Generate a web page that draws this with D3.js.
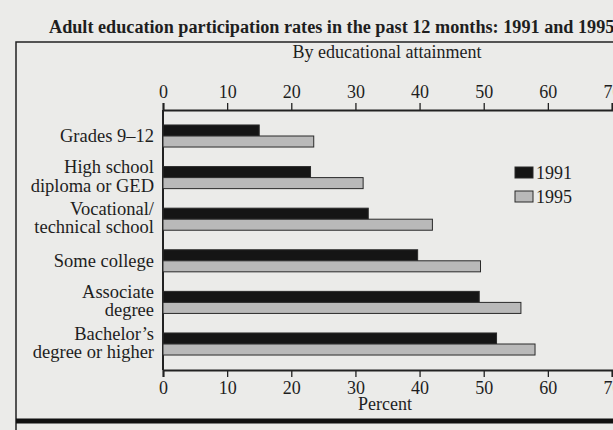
<!DOCTYPE html>
<html><head><meta charset="utf-8">
<script src="https://cdn.jsdelivr.net/npm/d3@7"></script>
<style>
html,body{margin:0;padding:0;background:#ebebe9;}
svg{display:block;}
text{font-family:"Liberation Serif","Times New Roman",serif;fill:#1e1e1e;}
</style></head>
<body>
<script>
const categories = [
  ["Grades 9\u201312"],
  ["High school","diploma or GED"],
  ["Vocational/","technical school"],
  ["Some college"],
  ["Associate","degree"],
  ["Bachelor\u2019s","degree or higher"]
];
const series = ["1991","1995"];
const values1991 = [15, 23, 32, 39.7, 49.3, 52];
const values1995 = [23.5, 31.2, 42, 49.5, 55.8, 58];
const tickValues = [0,10,20,30,40,50,60,70];
const titleText = "Adult education participation rates in the past 12 months: 1991 and 1995";
const subtitleText = "By educational attainment";
const xLabel = "Percent";

const W = 613, H = 430;
const svg = d3.select("body").append("svg").attr("width", W).attr("height", H);

const pL = 163, pR = 612, pT = 110, pB = 370;
const x = d3.scaleLinear().domain([0,70]).range([pL, pR]);
const keys = categories.map(c => c.join(" "));
const y = d3.scaleBand().domain(keys).range([pT, pB]).paddingInner(0.47).paddingOuter(0.36);
const y2 = d3.scaleBand().domain(series).range([0, y.bandwidth()]).padding(0);

// frame
svg.append("path").attr("d", `M16,${H} L16,42 L${W},42`).attr("fill","none").attr("stroke","#222").attr("stroke-width",1.5);
svg.append("line").attr("x1",16).attr("x2",W).attr("y1",421).attr("y2",421).attr("stroke","#111").attr("stroke-width",5);

// title
svg.append("text").attr("x",49).attr("y",33).attr("font-weight","bold").attr("font-size",18.2).text(titleText);
svg.append("text").attr("x",387).attr("y",58).attr("text-anchor","middle").attr("font-size",18).text(subtitleText);

// axes
const topAxis = d3.axisTop(x).tickValues(tickValues).tickSize(7).tickPadding(5).tickFormat(d3.format("d"));
const botAxis = d3.axisBottom(x).tickValues(tickValues).tickSize(7).tickPadding(4).tickFormat(d3.format("d"));
function styleAxis(g){
  g.select(".domain").attr("stroke","#222").attr("stroke-width",2);
  g.selectAll(".tick line").attr("stroke","#222").attr("stroke-width",1.3);
  g.selectAll(".tick text").attr("font-family","Liberation Serif, serif").attr("font-size",18).attr("fill","#1e1e1e");
}
svg.append("g").attr("transform",`translate(0,${pT})`).call(topAxis).call(styleAxis);
svg.append("g").attr("transform",`translate(0,${pB})`).call(botAxis).call(styleAxis);
svg.append("line").attr("x1",pL).attr("x2",pL).attr("y1",pT).attr("y2",pB).attr("stroke","#222").attr("stroke-width",2);

svg.append("text").attr("x",385).attr("y",410).attr("text-anchor","middle").attr("font-size",18).text(xLabel);

// bars
const rows = keys.map((k,i) => ({key:k, vals:[values1991[i], values1995[i]]}));
const fills = {"1991":"#151515","1995":"#b9b9b9"};
const g = svg.selectAll("g.row").data(rows).join("g").attr("class","row")
  .attr("transform", d => `translate(0,${y(d.key)})`);
g.selectAll("rect").data(d => series.map((s,j)=>({s, v:d.vals[j]}))).join("rect")
  .attr("x", x(0)).attr("y", d => y2(d.s))
  .attr("width", d => x(d.v)-x(0)).attr("height", y2.bandwidth())
  .attr("fill", d => fills[d.s]).attr("stroke","#2a2a2a").attr("stroke-width",1);

// category labels
categories.forEach((lines,i) => {
  const cy = y(keys[i]) + y.bandwidth()/2;
  const t = svg.append("text").attr("text-anchor","end").attr("font-size",18.5);
  if (lines.length === 1) {
    t.append("tspan").attr("x",154).attr("y",cy+6).text(lines[0]);
  } else {
    t.append("tspan").attr("x",154).attr("y",cy-4.5).text(lines[0]);
    t.append("tspan").attr("x",154).attr("y",cy+14).text(lines[1]);
  }
});

// legend
const leg = svg.append("g").attr("transform","translate(515,167)");
series.forEach((s,i)=>{
  leg.append("rect").attr("x",0).attr("y",i*24).attr("width",18).attr("height",11)
    .attr("fill",fills[s]).attr("stroke","#2a2a2a").attr("stroke-width",1);
  leg.append("text").attr("x",21).attr("y",i*24+12).attr("font-size",18).text(s);
});
</script>
</body></html>
